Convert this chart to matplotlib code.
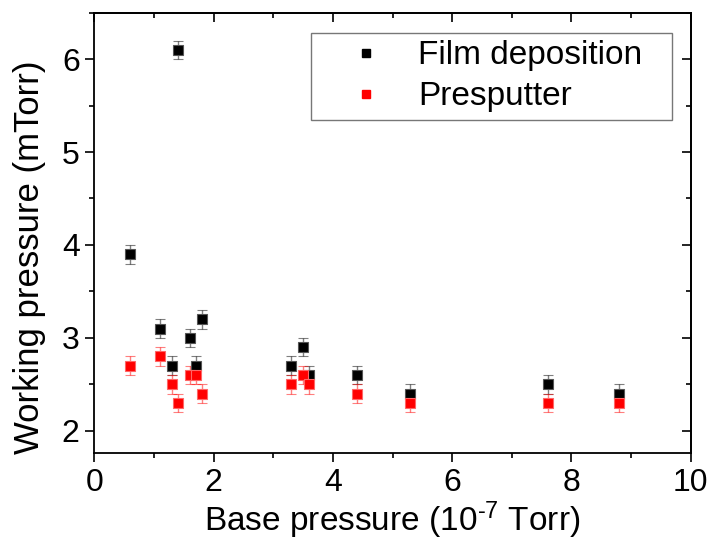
import matplotlib
matplotlib.use("Agg")
import matplotlib.pyplot as plt
from matplotlib.lines import Line2D
from matplotlib.ticker import MultipleLocator

plt.rcParams['font.family'] = ['Liberation Sans', 'DejaVu Sans']
plt.rcParams['mathtext.fontset'] = 'custom'
plt.rcParams['mathtext.rm'] = 'Liberation Sans'
plt.rcParams['mathtext.default'] = 'regular'

# base pressure (1e-7 Torr)
base = [0.6, 1.1, 1.3, 1.4, 1.6, 1.7, 1.8, 3.3, 3.5, 3.6, 4.4, 5.3, 7.6, 8.8]
# working pressure (mTorr)
film = [3.9, 3.1, 2.7, 6.1, 3.0, 2.7, 3.2, 2.7, 2.9, 2.6, 2.6, 2.4, 2.5, 2.4]
presputter = [2.7, 2.8, 2.5, 2.3, 2.6, 2.6, 2.4, 2.5, 2.6, 2.5, 2.4, 2.3, 2.3, 2.3]
err = [0.1] * len(base)

fig = plt.figure(figsize=(7.1, 5.42), dpi=100)
ax = fig.add_axes([94.3 / 710, 1 - 453.3 / 542, 596.4 / 710, 440.6 / 542])

ax.errorbar(base, film, yerr=err, fmt='s', color='black', ms=7, mec='#555555', mew=0.8,
            ecolor=(0, 0, 0, 0.5), elinewidth=1, capsize=3.5, capthick=1)
ax.errorbar(base, presputter, yerr=err, fmt='s', color='red', ms=7, mec='#ff6666', mew=0.8,
            ecolor=(1, 0, 0, 0.5), elinewidth=1, capsize=3.5, capthick=1)

ax.set_xlim(0, 10)
ax.set_ylim(1.757, 6.5)
ax.xaxis.set_major_locator(MultipleLocator(2))
ax.xaxis.set_minor_locator(MultipleLocator(1))
ax.yaxis.set_major_locator(MultipleLocator(1))
ax.yaxis.set_minor_locator(MultipleLocator(0.5))
ax.tick_params(which='major', direction='out', length=6.5, width=1.2, labelsize=23, pad=4)
ax.tick_params(which='minor', direction='out', length=3.5, width=1.2)
for s in ax.spines.values():
    s.set_linewidth(1.3)

top = ax.secondary_xaxis('top')
top.xaxis.set_major_locator(MultipleLocator(2))
top.xaxis.set_minor_locator(MultipleLocator(1))
top.tick_params(which='major', direction='in', length=6.5, width=1.2, labeltop=False)
top.tick_params(which='minor', direction='in', length=3.5, width=1.2)
top.spines['top'].set_linewidth(1.3)

right = ax.secondary_yaxis('right')
right.yaxis.set_major_locator(MultipleLocator(1))
right.yaxis.set_minor_locator(MultipleLocator(0.5))
right.tick_params(which='major', direction='in', length=6.5, width=1.2, labelright=False)
right.tick_params(which='minor', direction='in', length=3.5, width=1.2)
right.spines['right'].set_linewidth(1.3)

ax.set_xlabel('Base pressure (10$^{\u20107}$ Torr)', fontsize=24, labelpad=1)
ax.set_ylabel('Working pressure (mTorr)', fontsize=25)
ax.yaxis.set_label_coords(-0.081, 0.444)

handles = [Line2D([], [], marker='s', ls='none', color='black', ms=6),
           Line2D([], [], marker='s', ls='none', color='red', ms=6)]
leg = ax.legend(handles, ['Film deposition', 'Presputter'], loc='upper left',
                bbox_to_anchor=(0.363, 0.954, 0.605, 0.0), mode='expand',
                borderaxespad=0, fontsize=24, fancybox=False, framealpha=1,
                edgecolor='#777777', borderpad=0.22, handlelength=2.9,
                handletextpad=0.1, labelspacing=0.3)
leg.get_frame().set_linewidth(1.0)

fig.savefig('out.png', dpi=100)
